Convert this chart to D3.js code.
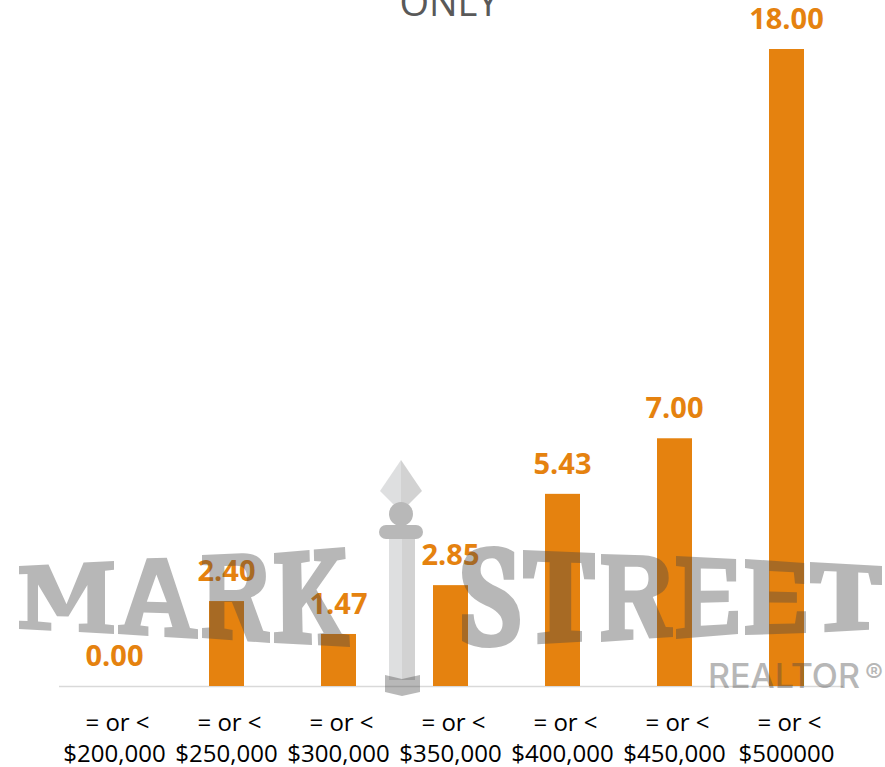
<!DOCTYPE html>
<html>
<head>
<meta charset="utf-8">
<script src="https://cdn.jsdelivr.net/npm/d3@7"></script>
<style>
  html, body { margin: 0; padding: 0; background: #fff; }
  svg { display: block; }
</style>
</head>
<body>
<div id="chart"></div>
<script>
var categories = ['$200,000', '$250,000', '$300,000', '$350,000', '$400,000', '$450,000', '$500000'];
var values = [0.00, 2.40, 1.47, 2.85, 5.43, 7.00, 18.00];
var tickPrefix = '= or <';
var title = 'ONLY';

var width = 885, height = 767;
var orange = '#e5820f';
var labelFont = '"Open Sans", sans-serif';
var markInk = '#464646', markAlpha = 0.385;

var svg = d3.select('#chart').append('svg')
  .attr('width', width)
  .attr('height', height);

var x = d3.scaleBand()
  .domain(categories)
  .range([58.5, 842.5])
  .paddingInner(0.6875)
  .paddingOuter(0.34375);

var y = d3.scaleLinear()
  .domain([0, 18])
  .range([686, 49]);

svg.append('text')
  .attr('x', 449)
  .attr('y', 16)
  .attr('text-anchor', 'middle')
  .attr('font-family', labelFont)
  .attr('font-size', 38)
  .attr('fill', '#595959')
  .text(title);

var axis = svg.append('g')
  .attr('transform', 'translate(0,' + y(0) + ')')
  .call(d3.axisBottom(x).tickSize(0).tickPadding(0));
axis.select('.domain').attr('stroke', '#d9d9d9').attr('stroke-width', 1.5);

// two line tick labels
axis.selectAll('.tick text').each(function(d) {
  var t = d3.select(this)
    .text(null)
    .attr('y', 0)
    .attr('dy', null)
    .attr('font-family', labelFont)
    .attr('font-size', 24)
    .attr('fill', '#000');
  t.append('tspan').attr('x', 3).attr('y', 44.5).text(tickPrefix);
  t.append('tspan').attr('x', 0).attr('y', 76).text(d);
});

svg.selectAll('.bar')
  .data(values)
  .enter().append('rect')
  .attr('class', 'bar')
  .attr('x', function(d, i) { return x(categories[i]); })
  .attr('y', function(d) { return y(d); })
  .attr('width', x.bandwidth())
  .attr('height', function(d) { return y(0) - y(d); })
  .attr('fill', orange);

svg.selectAll('.value')
  .data(values)
  .enter().append('text')
  .attr('class', 'value')
  .attr('x', function(d, i) { return x(categories[i]) + x.bandwidth() / 2; })
  .attr('y', function(d) { return y(d) - 20; })
  .attr('text-anchor', 'middle')
  .attr('font-family', labelFont)
  .attr('font-weight', 700)
  .attr('font-size', 29)
  .attr('fill', orange)
  .text(function(d) { return d3.format('.2f')(d); });

// watermark letters: outlines in a unit box, warped into a quad
var glyphs = {
  M: 'M0,0 L.31,0 L.5,.6 L.68,0 L1,0 L1,.12 L.905,.13 L.905,.87 L1,.88 L1,1 L.63,1 L.63,.88 L.72,.87 L.72,.32 L.52,.78 L.40,.78 L.2,.3 L.2,.87 L.34,.88 L.34,1 L0,1 L0,.87 L.09,.87 L.09,.13 L0,.13 Z',
  A: 'M.36,0 L.61,0 L.90,.87 L1,.88 L1,1 L.58,1 L.58,.88 L.68,.87 L.63,.70 L.32,.70 L.28,.87 L.38,.88 L.38,1 L0,1 L0,.88 L.08,.87 Z M.48,.21 L.36,.56 L.61,.56 Z',
  R: 'M0,0 L.58,0 Q.94,0 .94,.27 Q.94,.44 .72,.50 L.90,.87 L1,.88 L1,1 L.67,1 L.44,.56 L.33,.56 L.33,.87 L.45,.88 L.45,1 L0,1 L0,.88 L.11,.87 L.11,.13 L0,.12 Z M.33,.14 L.5,.14 Q.66,.14 .66,.28 Q.66,.42 .5,.42 L.33,.42 Z',
  K: 'M0,0 L.50,0 L.50,.12 L.38,.13 L.38,.42 L.66,.13 L.56,.12 L.56,0 L1,0 L1,.12 L.88,.13 L.58,.42 L.90,.87 L1,.88 L1,1 L.58,1 L.58,.88 L.66,.87 L.44,.55 L.38,.61 L.38,.87 L.50,.88 L.50,1 L0,1 L0,.88 L.12,.87 L.12,.13 L0,.12 Z',
  S: 'M.55,0 Q.75,0 .9,.06 L.9,.33 L.72,.33 Q.68,.12 .52,.12 Q.32,.12 .32,.24 Q.32,.33 .6,.4 Q1,.5 1,.72 Q1,1 .48,1 Q.2,1 0,.93 L0,.67 L.2,.67 Q.22,.87 .5,.87 Q.7,.87 .7,.76 Q.7,.65 .4,.58 Q0,.48 0,.26 Q0,0 .55,0 Z',
  T: 'M0,0 L1,0 L1,.30 L.85,.30 L.81,.12 L.67,.12 L.67,.87 L.82,.88 L.82,1 L.2,1 L.2,.88 L.37,.87 L.37,.12 L.2,.12 L.15,.30 L0,.30 Z',
  E: 'M0,0 L.97,0 L.97,.30 L.82,.30 L.80,.14 L.40,.14 L.40,.42 L.85,.42 L.85,.57 L.40,.57 L.40,.86 L.82,.86 L.85,.69 L1,.69 L1,1 L0,1 L0,.88 L.14,.87 L.14,.13 L0,.12 Z'
};

// letter, then top-left, top-right, bottom-right, bottom-left corners
var markLetters = [
  ['M', [19, 566], [114, 561], [114, 634], [19, 629]],
  ['A', [118, 559], [198, 557], [198, 639], [118, 634]],
  ['R', [202, 555], [270, 552], [270, 643], [202, 638]],
  ['K', [274, 553], [345, 547], [350, 647], [274, 643]],
  ['S', [462, 546], [520, 546], [520, 648], [462, 648]],
  ['T', [523, 550], [595, 553], [595, 641], [523, 645]],
  ['R', [601, 554], [673, 556], [673, 637], [601, 642]],
  ['E', [676, 556], [738, 559], [738, 634], [676, 639]],
  ['E', [745, 559], [806, 563], [806, 633], [745, 635]],
  ['T', [810, 562], [882, 566], [882, 629], [810, 633]]
];

function warp(u, v, q) {
  var top = [q[0][0] + (q[1][0] - q[0][0]) * u, q[0][1] + (q[1][1] - q[0][1]) * u];
  var bot = [q[3][0] + (q[2][0] - q[3][0]) * u, q[3][1] + (q[2][1] - q[3][1]) * u];
  return (top[0] + (bot[0] - top[0]) * v).toFixed(1) + ',' + (top[1] + (bot[1] - top[1]) * v).toFixed(1);
}

function glyphPath(str, q) {
  return str.replace(/(\.?\d[\d.]*),(\.?\d[\d.]*)/g, function(m, u, v) {
    return warp(+u, +v, q);
  });
}

var mark = svg.append('g').attr('class', 'watermark');

mark.append('g')
  .attr('opacity', markAlpha)
  .selectAll('path')
  .data(markLetters)
  .enter().append('path')
  .attr('fill', markInk)
  .attr('fill-rule', 'evenodd')
  .attr('d', function(l) { return glyphPath(glyphs[l[0]], l.slice(1)); });

// pillar
mark.append('path').attr('d', 'M401,460L380,491L401,512Z').attr('fill', '#dcddde').attr('opacity', 0.95);
mark.append('path').attr('d', 'M401,460L422,491L401,512Z').attr('fill', '#d0d0d0').attr('opacity', 0.95);
mark.append('rect').attr('x', 389).attr('y', 539).attr('width', 13).attr('height', 141).attr('fill', '#dcddde').attr('opacity', 0.95);
mark.append('rect').attr('x', 402).attr('y', 539).attr('width', 13).attr('height', 141).attr('fill', '#d0d0d0').attr('opacity', 0.95);
mark.append('circle').attr('cx', 401).attr('cy', 514).attr('r', 12).attr('fill', '#b8b8b8');
mark.append('rect').attr('x', 379).attr('y', 525).attr('width', 44).attr('height', 14).attr('rx', 7).attr('fill', '#b8b8b8');
mark.append('path').attr('d', 'M385,675L402,679L420,675V692L402,696L385,692Z').attr('fill', markInk).attr('opacity', markAlpha);

mark.append('text')
  .attr('x', 708)
  .attr('y', 688)
  .attr('font-family', 'Inter, sans-serif')
  .attr('font-weight', 500)
  .attr('font-size', 34)
  .attr('fill', markInk)
  .attr('opacity', markAlpha)
  .text('REALTOR');
mark.append('text')
  .attr('x', 865)
  .attr('y', 683)
  .attr('font-family', 'Inter, sans-serif')
  .attr('font-weight', 500)
  .attr('font-size', 27)
  .attr('fill', markInk)
  .attr('opacity', markAlpha)
  .text('®');
</script>
</body>
</html>
